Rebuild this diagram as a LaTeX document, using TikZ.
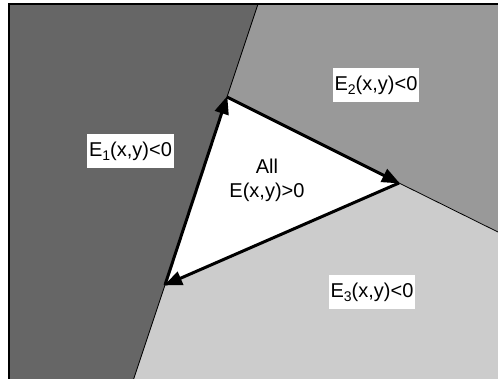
\documentclass[tikz,border=0pt]{standalone}
\usepackage{fontspec}
\setmainfont{Liberation Sans}
\usetikzlibrary{arrows.meta}
\tikzset{
  cim/.style={fill=white,inner xsep=2pt,inner ysep=8.25pt,text height=14.5pt,text depth=3pt},
  hat/.style={line width=0.8pt},
  el/.style={line width=3pt,-{Triangle[length=18pt,width=14pt]},shorten >=-1pt},
}
\colorlet{sotet}{black!60}
\colorlet{kozep}{black!40}
\colorlet{vilagos}{black!20}
\newcommand{\alsz}[1]{\raisebox{-4pt}{\fontsize{14}{14}\selectfont#1}}

\begin{document}
\begin{tikzpicture}[x=1pt,y=-1pt,font=\fontsize{20}{24}\selectfont]
  \useasboundingbox (0,0) rectangle (498,378);
  % triangle corners and where the lines leave the frame
  \coordinate (a) at (227,97);
  \coordinate (b) at (399,183);
  \coordinate (c) at (165,285);
  \coordinate (ta) at (258,4);
  \coordinate (tb) at (500,233);
  \coordinate (tc) at (133,381);
  % regions
  \fill[sotet] (9,4) -- (ta) -- (a) -- (c) -- (tc) -- (9,381) -- cycle;
  \fill[kozep] (ta) -- (500,4) -- (tb) -- (b) -- (a) -- cycle;
  \fill[vilagos] (tc) -- (c) -- (b) -- (tb) -- (500,381) -- cycle;
  \fill[white] (a) -- (b) -- (c) -- cycle;
  \draw[hat] (ta) -- (a);
  \draw[hat] (c) -- (tc);
  \draw[hat] (b) -- (tb);
  % frame
  \draw[line width=2pt] (9,381) -- (9,4) -- (500,4);
  % edges
  \draw[el] (c) -- (a);
  \draw[el] (a) -- (b);
  \draw[el] (b) -- (c);
  % labels
  \node[cim] (e1) at (130.5,151) {E\alsz{1}(x,y)<0};
  \node[cim] (e2) at (376,85) {E\alsz{2}(x,y)<0};
  \node[cim] (e3) at (372,292) {E\alsz{3}(x,y)<0};
  \node[align=center] (all) at (267,180) {All\\E(x,y)>0};
\end{tikzpicture}
\end{document}
